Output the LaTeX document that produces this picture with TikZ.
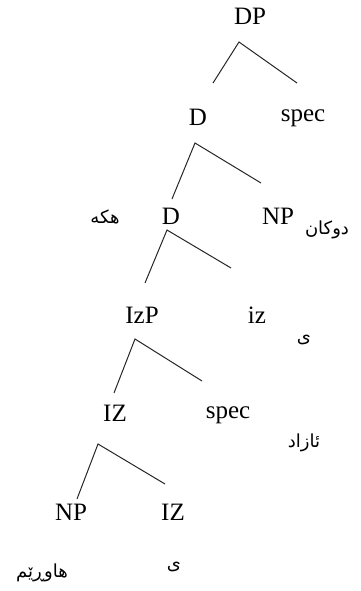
\documentclass[tikz,border=0pt]{standalone}
\usepackage{fontspec}
\setmainfont{Liberation Serif}
\newfontfamily\arabicfont[Script=Arabic]{DejaVu Sans}
\TeXXeTstate=1
\usepackage{tikz}

\begin{document}
\begin{tikzpicture}[
  x=1pt, y=-1pt,
  cat/.style={inner sep=0pt, font=\fontsize{25}{29}\selectfont},
  word/.style={inner sep=0pt, font=\arabicfont\fontsize{18}{22}\selectfont},
  branch/.style={line width=1pt, black!85}
]
\useasboundingbox (0,0) rectangle (360,591);

% --- Categories ---
\node[cat] (dp) at (250,16) {DP};
\node[cat] (d1) at (198,117) {D};
\node[cat] (spec1) at (303,118) {spec};
\node[cat] (d2) at (171,216) {D};
\node[cat] (np1) at (278,216) {NP};
\node[cat] (izp) at (142,315) {IzP};
\node[cat] (iz) at (257,315) {iz};
\node[cat] (iz1) at (115,413) {IZ};
\node[cat] (spec2) at (228,415) {spec};
\node[cat] (np2) at (71,512) {NP};
\node[cat] (iz2) at (173,512) {IZ};

% --- Kurdish words ---
\node[word] (hake) at (105,217) {\beginR هکه\endR};
\node[word] (dukan) at (327,230) {\beginR دوکان\endR};
\node[word] (ye1) at (304,340) {\beginR ی\endR};
\node[word] (azad) at (304,443) {\beginR ئازاد\endR};
\node[word] (ye2) at (174,567) {\beginR ی\endR};
\node[word] (hawrem) at (42,573) {\beginR هاوڕێم\endR};

% --- Branches ---
\coordinate (dp-top) at (239,42);  \coordinate (dp-l) at (213,83);  \coordinate (dp-r) at (297,83);
\coordinate (d1-top) at (195,143); \coordinate (d1-l) at (172,199); \coordinate (d1-r) at (261,183);
\coordinate (d2-top) at (167,230); \coordinate (d2-l) at (145,283); \coordinate (d2-r) at (231,268);
\coordinate (izp-top) at (135,339); \coordinate (izp-l) at (114,393); \coordinate (izp-r) at (202,381);
\coordinate (iz1-top) at (98,444); \coordinate (iz1-l) at (77,499); \coordinate (iz1-r) at (165,484);

\draw[branch] (dp-l) -- (dp-top) -- (dp-r);
\draw[branch] (d1-l) -- (d1-top) -- (d1-r);
\draw[branch] (d2-l) -- (d2-top) -- (d2-r);
\draw[branch] (izp-l) -- (izp-top) -- (izp-r);
\draw[branch] (iz1-l) -- (iz1-top) -- (iz1-r);

\end{tikzpicture}
\end{document}
